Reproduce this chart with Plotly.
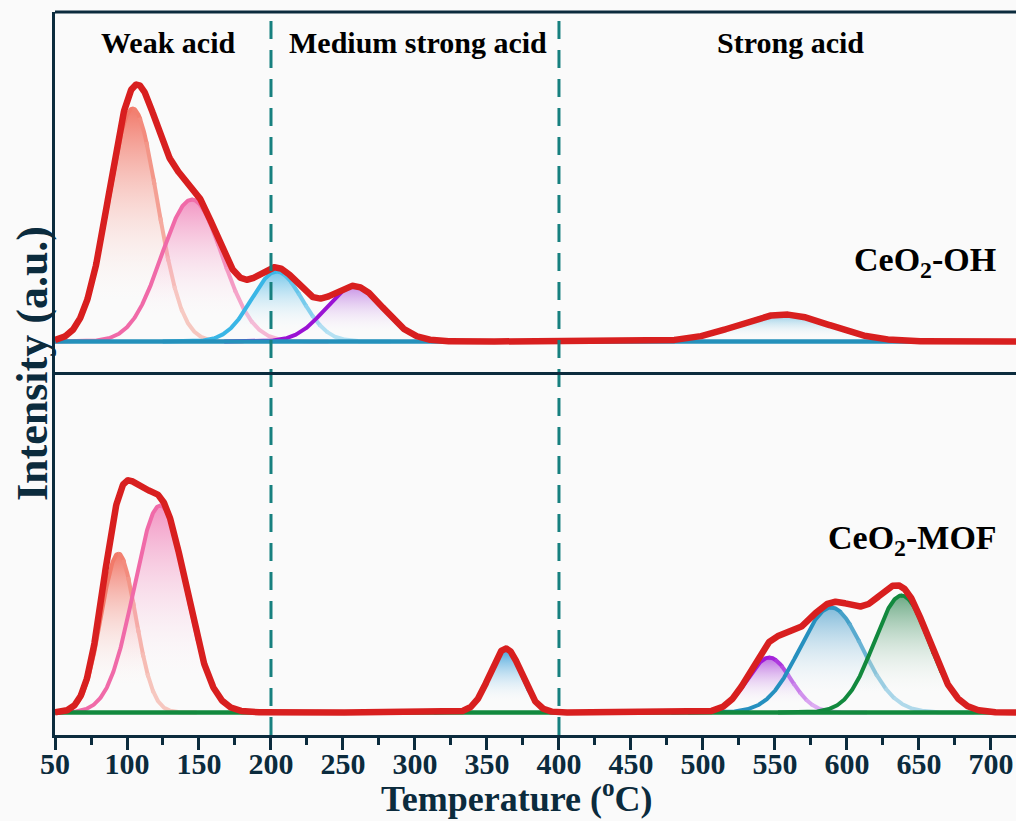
import numpy as np
import plotly.graph_objects as go

# ---------------- data (peak deconvolution) ----------------
T_MIN, T_MAX = 50, 717.4
# CeO2-OH (top panel): Gaussian components
oh_centers = [104, 145, 204, 258, 556]
oh_heights = [233, 142, 70, 55, 27]
oh_sigmas = [17, 21, 17.5, 20, 32]
oh_colors = ["#f27a6a", "#f06aa8", "#3ab6e6", "#9a12d4", "#2a93bd"]
oh_tails = ["#f6c6be", "#f6b4d2", "#b2e0f2", "#c88ae6", "#2a93bd"]
oh_fills = ["rgba(240,105,88,0.88)", "rgba(238,95,165,0.65)", "rgba(45,170,225,0.65)",
            "rgba(150,40,210,0.5)", "rgba(70,170,215,0.6)"]

# CeO2-MOF (bottom panel)
mof_centers = [94, 123, 363, 546, 589, 638]
mof_heights = [159, 207, 64, 55, 105, 117]
mof_sigmas = [12, 18, 11, 15, 22, 19]
mof_colors = ["#f27a6a", "#f06aa8", "#3aa6dc", "#a018d8", "#2690bf", "#12893e"]
mof_tails = ["#f6c6be", "#f6b4d2", "#3aa6dc", "#dcaaf2", "#aed8ea", "#12893e"]
mof_fills = ["rgba(240,105,88,0.88)", "rgba(238,95,165,0.65)", "rgba(40,150,215,0.9)",
             "rgba(150,20,210,0.62)", "rgba(40,140,195,0.58)", "rgba(20,120,60,0.62)"]

tick_vals = list(range(50, 701, 50))
region_labels = ["Weak acid", "Medium strong acid", "Strong acid"]
region_bounds = [200, 400]

NAVY = "#0b2b3d"
RED = "#d81f1f"
TEAL = "#17807f"
FONT = "Liberation Serif"

x = np.linspace(T_MIN, T_MAX, 2000)


def gauss(xx, c, h, s):
    return h * np.exp(-((xx - c) ** 2) / (2 * s * s))


def hex_rgb(hx):
    hx = hx.lstrip("#")
    return tuple(int(hx[i:i + 2], 16) for i in (0, 2, 4))


def mix(c1, c2, t):
    a, b = hex_rgb(c1), hex_rgb(c2)
    return "rgb(%d,%d,%d)" % tuple(round(a[i] + (b[i] - a[i]) * t) for i in range(3))


fig = go.Figure()


def add_panel(centers, heights, sigmas, colors, tails, fills, yaxis, base_color):
    total = np.zeros_like(x)
    for c, h, s, col, tail, fc in zip(centers, heights, sigmas, colors, tails, fills):
        lo, hi = max(T_MIN, c - 4.5 * s), min(T_MAX, c + 4.5 * s)
        xs = x[(x >= lo) & (x <= hi)]
        ys = gauss(xs, c, h, s)
        total += gauss(x, c, h, s)
        fig.add_trace(go.Scatter(
            x=xs, y=ys, mode="lines", line=dict(width=0), fill="tozeroy",
            fillgradient=dict(type="vertical",
                              colorscale=[[0, "rgba(255,255,255,0)"], [0.15, "rgba(255,255,255,0.05)"], [1, fc]]),
            yaxis=yaxis, showlegend=False, hoverinfo="skip"))
        # line, fading to the tail colour on the right side
        edges = [lo, c] + list(c + np.linspace(0.3, 2.0, 7) * s) + [hi]
        for i in range(len(edges) - 1):
            a, bnd = edges[i], edges[i + 1]
            if a >= hi:
                break
            m = (x >= a - 0.5) & (x <= min(bnd, hi) + 0.5)
            t = min(max(((a + bnd) / 2 - c) / (2.0 * s), 0), 1) if i > 0 else 0
            fig.add_trace(go.Scatter(
                x=x[m], y=gauss(x[m], c, h, s), mode="lines",
                line=dict(color=mix(col, tail, t), width=4),
                yaxis=yaxis, showlegend=False, hoverinfo="skip"))
    fig.add_trace(go.Scatter(x=[T_MIN, T_MAX], y=[0, 0], mode="lines",
                             line=dict(color=base_color, width=4.5), yaxis=yaxis,
                             showlegend=False, hoverinfo="skip"))
    fig.add_trace(go.Scatter(x=x, y=total, mode="lines", line=dict(color=RED, width=6.5),
                             yaxis=yaxis, showlegend=False, hoverinfo="skip"))


add_panel(oh_centers, oh_heights, oh_sigmas, oh_colors, oh_tails, oh_fills, "y", "#2591bb")
add_panel(mof_centers, mof_heights, mof_sigmas, mof_colors, mof_tails, mof_fills, "y2", "#12893e")

W, H = 1016, 821
ML, MR, MT, MB = 55, 0, 12, 86
pw, ph = W - ML - MR, H - MT - MB


def px(xp):
    return (xp - ML) / pw


def py(yp):
    return (H - MB - yp) / ph


def label(text, xp, yp, size, color="black", angle=0):
    return dict(text=text, x=px(xp), y=py(yp), xref="paper", yref="paper",
                xanchor="center", yanchor="middle", textangle=angle, showarrow=False,
                font=dict(family=FONT, size=size, color=color, weight="bold"))


annotations = []
for lab, cx in zip(region_labels, [168, 418, 790]):
    annotations.append(label(lab, cx, 43, 30))
annotations.append(label("CeO<sub>2</sub>-OH", 925, 262, 34))
annotations.append(label("CeO<sub>2</sub>-MOF", 912, 540, 34))
annotations.append(label("Intensity (a.u.)", 32, 364, 44, NAVY, -90))
annotations.append(label("Temperature (<sup>o</sup>C)", 517, 797, 36, NAVY))

shapes = []
for xb in region_bounds:
    shapes.append(dict(type="line", xref="x", yref="paper", x0=xb, x1=xb, y0=0, y1=1,
                       line=dict(color=TEAL, width=3, dash="18px,11px"), layer="above"))
for yy in [1, 0.5]:
    shapes.append(dict(type="line", xref="paper", yref="paper", x0=0, x1=1, y0=yy, y1=yy,
                       line=dict(color=NAVY, width=3), layer="above"))

fig.update_layout(
    width=W, height=H,
    margin=dict(l=ML, r=MR, t=MT, b=MB),
    paper_bgcolor="#fafafa", plot_bgcolor="#fafafa",
    xaxis=dict(range=[T_MIN, T_MAX], anchor="y2", tickvals=tick_vals,
               ticks="outside", ticklen=12, tickwidth=3, tickcolor=NAVY,
               minor=dict(tick0=75, dtick=50, ticks="outside", ticklen=7, tickwidth=3, tickcolor=NAVY),
               showline=True, linewidth=3, linecolor=NAVY, showgrid=False, zeroline=False,
               ticklabelstandoff=-12,
               tickfont=dict(family=FONT, size=30, color=NAVY, weight="bold")),
    yaxis=dict(domain=[0.5, 1], range=[-32, 329.5], showticklabels=False, ticks="",
               showline=True, linewidth=3, linecolor=NAVY, showgrid=False, zeroline=False),
    yaxis2=dict(domain=[0, 0.5], range=[-22.5, 339], showticklabels=False, ticks="",
                showline=True, linewidth=3, linecolor=NAVY, showgrid=False, zeroline=False),
    annotations=annotations, shapes=shapes,
)

fig.write_html("out.html")
